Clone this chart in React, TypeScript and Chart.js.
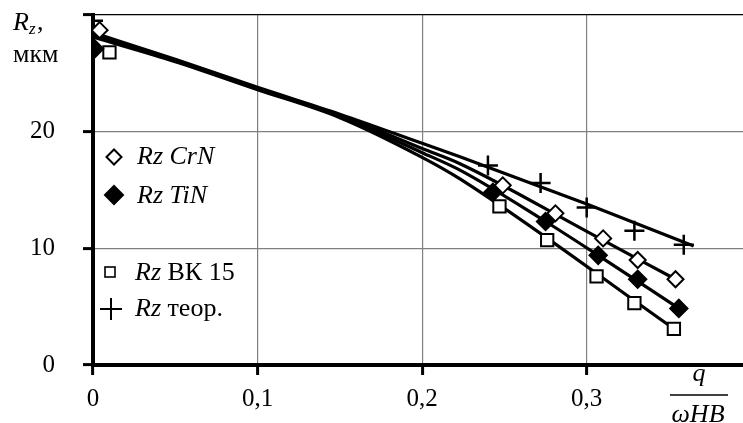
import React, { useEffect, useRef } from 'react';
import { Chart, registerables } from 'chart.js';

Chart.register(...registerables);

const SERIF = '"Liberation Serif", "Times New Roman", serif';

// axis ticks
const xTickValues = [0, 0.1, 0.2, 0.3];
const xTickLabels = ['0', '0,1', '0,2', '0,3'];
const yTickValues = [0, 10, 20, 30];
const yTickLabels = ['0', '10', '20', ''];

// measured markers
const crnX = [0.004, 0.249, 0.281, 0.31, 0.331, 0.354];
const crnY = [28.7, 15.4, 13.0, 10.85, 9.0, 7.35];
const tinX = [0.001, 0.243, 0.275, 0.307, 0.331, 0.356];
const tinY = [27.1, 14.8, 12.3, 9.4, 7.35, 4.85];
const vkX = [0.01, 0.247, 0.276, 0.306, 0.329, 0.353];
const vkY = [26.8, 13.6, 10.7, 7.6, 5.3, 3.1];
const teorX = [0, 0.24, 0.272, 0.3, 0.329, 0.359];
const teorY = [29.5, 17.1, 15.6, 13.5, 11.5, 10.3];

// trend curves
const teorTrendX = [0, 0.05, 0.1, 0.15, 0.2, 0.223, 0.3, 0.365];
const teorTrendY = [28.5, 26.2, 23.8, 21.5, 19.0, 17.85, 13.8, 10.2];
const crnTrendX = [0, 0.05, 0.1, 0.15, 0.2, 0.223, 0.3, 0.354];
const crnTrendY = [28.35, 26.1, 23.7, 21.4, 18.55, 17.25, 11.45, 7.35];
const tinTrendX = [0, 0.05, 0.1, 0.15, 0.2, 0.223, 0.275, 0.307, 0.356];
const tinTrendY = [28.2, 26.05, 23.65, 21.3, 18.2, 16.7, 12.3, 9.4, 4.85];
const vkTrendX = [0, 0.05, 0.1, 0.15, 0.2, 0.223, 0.353];
const vkTrendY = [28.1, 26.0, 23.6, 21.2, 17.8, 15.95, 3.1];

const zip = (xs: number[], ys: number[]) => xs.map((x, i) => ({ x, y: ys[i] }));

const trendDs = (xs: number[], ys: number[]) => ({
  type: 'line' as const,
  data: zip(xs, ys),
  borderColor: '#000',
  borderWidth: 3.2,
  pointRadius: 0,
  showLine: true,
  cubicInterpolationMode: 'monotone' as const,
  fill: false,
  order: 2,
});

const markerDs = (xs: number[], ys: number[], style: any, radius: number, bg: string, bw: number) => ({
  type: 'scatter' as const,
  data: zip(xs, ys),
  showLine: false,
  pointStyle: style,
  pointRadius: radius,
  pointBackgroundColor: bg,
  pointBorderColor: '#000',
  pointBorderWidth: bw,
  order: 1,
});

function diamond(ctx: CanvasRenderingContext2D, x: number, y: number, r: number, fill: boolean) {
  ctx.beginPath();
  ctx.moveTo(x - r, y);
  ctx.lineTo(x, y - r);
  ctx.lineTo(x + r, y);
  ctx.lineTo(x, y + r);
  ctx.closePath();
  ctx.fillStyle = fill ? '#000' : '#fff';
  ctx.fill();
  ctx.lineWidth = 2;
  ctx.strokeStyle = '#000';
  ctx.stroke();
}

function mixedText(ctx: CanvasRenderingContext2D, x: number, y: number, parts: [string, boolean][]) {
  let cx = x;
  ctx.textAlign = 'left';
  ctx.textBaseline = 'alphabetic';
  ctx.fillStyle = '#000';
  for (const [t, it] of parts) {
    ctx.font = `${it ? 'italic ' : ''}26px ${SERIF}`;
    ctx.fillText(t, cx, y);
    cx += ctx.measureText(t).width;
  }
}

const annotations = {
  id: 'annotations',
  afterDraw(chart: any) {
    const ctx: CanvasRenderingContext2D = chart.ctx;
    ctx.save();
    ctx.fillStyle = '#000';
    ctx.strokeStyle = '#000';
    ctx.textAlign = 'left';
    ctx.textBaseline = 'alphabetic';
    // y title
    ctx.font = `italic 26px ${SERIF}`;
    ctx.fillText('R', 13, 30);
    ctx.font = `italic 17px ${SERIF}`;
    ctx.fillText('z', 29, 34);
    ctx.font = `26px ${SERIF}`;
    ctx.fillText(',', 37, 30);
    ctx.fillText('мкм', 13, 62);
    // x title
    ctx.textAlign = 'center';
    ctx.font = `italic 26px ${SERIF}`;
    ctx.fillText('q', 699, 381);
    ctx.fillText('ωHB', 698, 422);
    ctx.lineWidth = 1.5;
    ctx.beginPath();
    ctx.moveTo(670, 395);
    ctx.lineTo(728, 395);
    ctx.stroke();
    // legend
    diamond(ctx, 114, 157, 7.5, false);
    mixedText(ctx, 137, 164, [['Rz CrN', true]]);
    diamond(ctx, 114, 195, 9, true);
    mixedText(ctx, 137, 203, [['Rz TiN', true]]);
    ctx.lineWidth = 1.6;
    ctx.fillStyle = '#fff';
    ctx.fillRect(105, 267, 10, 10);
    ctx.strokeRect(105, 267, 10, 10);
    mixedText(ctx, 135, 280, [['Rz', true], [' ВК 15', false]]);
    ctx.lineWidth = 2;
    ctx.beginPath();
    ctx.moveTo(100, 309);
    ctx.lineTo(122, 309);
    ctx.moveTo(111, 298);
    ctx.lineTo(111, 320);
    ctx.stroke();
    mixedText(ctx, 135, 316, [['Rz', true], [' теор.', false]]);
    ctx.restore();
  },
};

const zeroPad = (s: any) => {
  s.paddingLeft = 0;
  s.paddingRight = 0;
  s.paddingTop = 0;
  s.paddingBottom = 0;
};

export default function App() {
  const ref = useRef<HTMLCanvasElement | null>(null);
  useEffect(() => {
    if (!ref.current) return;
    const chart = new Chart(ref.current, {
      type: 'scatter',
      data: {
        datasets: [
          trendDs(teorTrendX, teorTrendY),
          trendDs(crnTrendX, crnTrendY),
          trendDs(tinTrendX, tinTrendY),
          trendDs(vkTrendX, vkTrendY),
          markerDs(crnX, crnY, 'rectRot', 8, '#fff', 2),
          markerDs(tinX, tinY, 'rectRot', 9, '#000', 1.5),
          markerDs(vkX, vkY, 'rect', 8.7, '#fff', 2),
          markerDs(teorX, teorY, 'cross', 10, '#000', 2.5),
        ] as any,
      },
      options: {
        animation: false,
        responsive: false,
        layout: { autoPadding: false, padding: { top: 15, left: 0, right: 0, bottom: 0 } },
        plugins: { legend: { display: false }, tooltip: { enabled: false } },
        scales: {
          x: {
            type: 'linear',
            min: 0,
            max: 0.395,
            afterBuildTicks: (s: any) => {
              s.ticks = xTickValues.map((v) => ({ value: v }));
            },
            afterFit: (s: any) => {
              s.height = 58;
              zeroPad(s);
            },
            border: { color: '#000', width: 4 },
            grid: {
              color: '#808080',
              lineWidth: 1.2,
              drawTicks: true,
              tickLength: 10,
              tickColor: '#000',
              tickWidth: 3,
            },
            ticks: {
              autoSkip: false,
              maxRotation: 0,
              padding: 9,
              color: '#000',
              font: { family: SERIF, size: 25 },
              callback: (_v: any, i: number) => xTickLabels[i],
            },
          },
          y: {
            type: 'linear',
            min: 0,
            max: 30,
            afterBuildTicks: (s: any) => {
              s.ticks = yTickValues.map((v) => ({ value: v }));
            },
            afterFit: (s: any) => {
              s.width = 93;
              zeroPad(s);
            },
            border: { color: '#000', width: 4 },
            grid: {
              color: (c: any) => (c.tick && c.tick.value === 30 ? '#000' : '#808080'),
              lineWidth: 1.2,
              drawTicks: true,
              tickLength: 10,
              tickColor: '#000',
              tickWidth: 3,
            },
            ticks: {
              autoSkip: false,
              padding: 28,
              color: '#000',
              font: { family: SERIF, size: 25 },
              callback: (_v: any, i: number) => yTickLabels[i],
            },
          },
        },
      },
      plugins: [annotations],
    });
    return () => chart.destroy();
  }, []);
  return (
    <div style={{ position: 'fixed', left: 0, top: 0, width: 743, height: 423, background: '#fff' }}>
      <canvas ref={ref} width={743} height={423} />
    </div>
  );
}
